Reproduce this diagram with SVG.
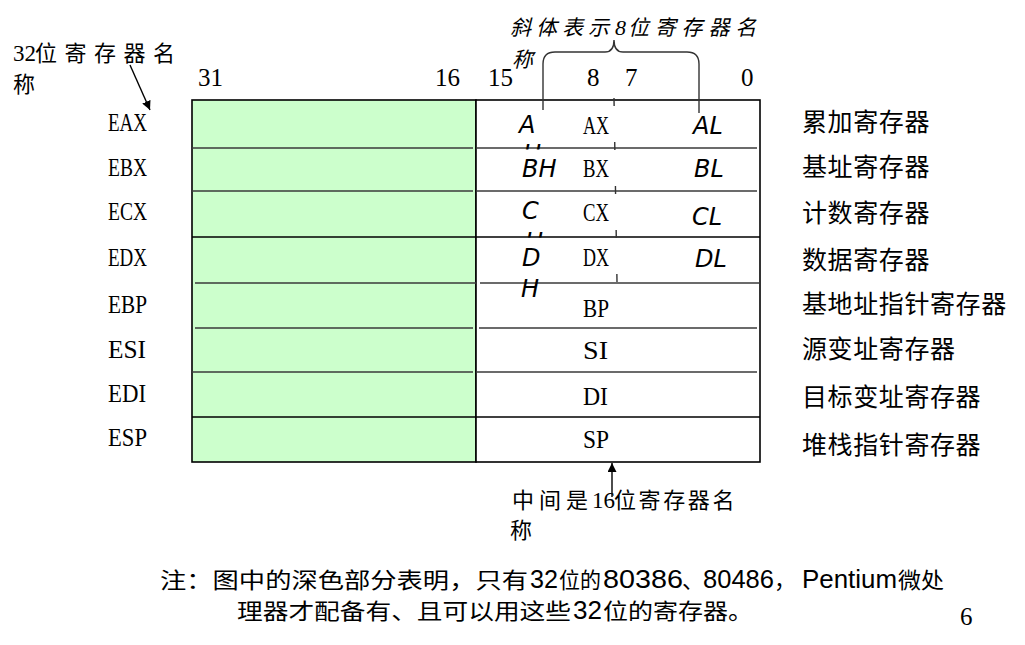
<svg xmlns="http://www.w3.org/2000/svg" width="1025" height="645" viewBox="0 0 1025 645">
<style>
.ser{font-family:"Liberation Serif","Noto Sans CJK SC",serif;font-size:25px;fill:#000}
.reg{font-family:"Liberation Serif",serif;font-size:26px;fill:#000}
.cn{font-family:"Noto Sans CJK SC",sans-serif;font-size:25px;fill:#000;letter-spacing:0.6px}
.it{font-family:"DejaVu Sans",sans-serif;font-style:italic;font-size:24px;fill:#000}
.lab{font-family:"Noto Sans CJK SC",sans-serif;font-size:22px;fill:#000}
.labs{font-family:"Liberation Serif",serif;font-size:23px;fill:#000}
.note{font-family:"Noto Sans CJK SC",sans-serif;font-size:22px;fill:#000}
.notel{font-family:"Liberation Sans",sans-serif;font-size:25px;fill:#000}
.sep{stroke:#3a3a3a;stroke-width:1.6}
.frame{stroke:#000;stroke-width:1.6}
.conn{stroke:#000;stroke-width:1.4;fill:none}
</style>
<defs>
<marker id="ah" viewBox="0 0 10 10" refX="10" refY="5" markerWidth="9" markerHeight="9" markerUnits="userSpaceOnUse" orient="auto">
<path d="M0,0 L10,5 L0,10 z" fill="#000"/>
</marker>
<clipPath id="clipA"><rect x="515" y="140" width="40" height="9.5"/></clipPath>
<clipPath id="clipC"><rect x="515" y="228" width="40" height="9.5"/></clipPath>
</defs>

<g id="frame">
<rect x="192" y="100" width="284" height="362" fill="#CCFFCC" class="frame"/>
<rect x="476" y="100" width="284" height="362" fill="#FFFFFF" class="frame"/>
<line x1="192" y1="148" x2="473" y2="148" class="sep"/>
<line x1="477" y1="148" x2="757" y2="148" class="sep"/>
<line x1="192" y1="191" x2="473" y2="191" class="sep"/>
<line x1="477" y1="191" x2="757" y2="191" class="sep"/>
<line x1="192" y1="237" x2="760" y2="237" class="frame"/>
<line x1="195" y1="283" x2="476" y2="283" class="sep"/>
<line x1="480" y1="283" x2="760" y2="283" class="sep"/>
<line x1="195" y1="328" x2="473" y2="328" class="sep"/>
<line x1="479" y1="328" x2="757" y2="328" class="sep"/>
<line x1="192" y1="372" x2="473" y2="372" class="sep"/>
<line x1="476" y1="372" x2="757" y2="372" class="sep"/>
<line x1="192" y1="417" x2="760" y2="417" class="frame"/>
<line x1="614" y1="98" x2="617" y2="282" stroke="#333" stroke-width="1.4" stroke-dasharray="8 36"/>
</g>

<g id="bit-numbers">
<text class="ser" x="198" y="86">31</text>
<text class="ser" x="435" y="86">16</text>
<text class="ser" x="488" y="86">15</text>
<text class="ser" x="587" y="86">8</text>
<text class="ser" x="625" y="86">7</text>
<text class="ser" x="741" y="86">0</text>
</g>

<g id="reg-eax">
<text class="reg" x="108" y="131" textLength="39" lengthAdjust="spacingAndGlyphs">EAX</text>
<text class="it" x="519" y="133">A</text>
<text class="it" x="523" y="161.5" clip-path="url(#clipA)">H</text>
<text class="reg" x="583" y="134" textLength="26" lengthAdjust="spacingAndGlyphs">AX</text>
<text class="it" x="693" y="134">AL</text>
<text class="cn" x="802" y="131">累加寄存器</text>
</g>
<g id="reg-ebx">
<text class="reg" x="108" y="176" textLength="39" lengthAdjust="spacingAndGlyphs">EBX</text>
<text class="it" x="522" y="177">BH</text>
<text class="reg" x="583" y="177" textLength="26" lengthAdjust="spacingAndGlyphs">BX</text>
<text class="it" x="694" y="177">BL</text>
<text class="cn" x="802" y="176">基址寄存器</text>
</g>
<g id="reg-ecx">
<text class="reg" x="108" y="220" textLength="39" lengthAdjust="spacingAndGlyphs">ECX</text>
<text class="it" x="522" y="219">C</text>
<text class="it" x="525" y="249.5" clip-path="url(#clipC)">H</text>
<text class="reg" x="583" y="221" textLength="26" lengthAdjust="spacingAndGlyphs">CX</text>
<text class="it" x="692" y="225">CL</text>
<text class="cn" x="802" y="222">计数寄存器</text>
</g>
<g id="reg-edx">
<text class="reg" x="108" y="266" textLength="39" lengthAdjust="spacingAndGlyphs">EDX</text>
<text class="it" x="522" y="266">D</text>
<text class="it" x="521" y="297">H</text>
<text class="reg" x="583" y="266" textLength="26" lengthAdjust="spacingAndGlyphs">DX</text>
<text class="it" x="695" y="267">DL</text>
<text class="cn" x="802" y="269">数据寄存器</text>
</g>
<g id="reg-ebp">
<text class="reg" x="108" y="313" textLength="39" lengthAdjust="spacingAndGlyphs">EBP</text>
<text class="reg" x="583" y="317" textLength="26" lengthAdjust="spacingAndGlyphs">BP</text>
<text class="cn" x="802" y="313">基地址指针寄存器</text>
</g>
<g id="reg-esi">
<text class="reg" x="108" y="358" textLength="38" lengthAdjust="spacingAndGlyphs">ESI</text>
<text class="reg" x="583" y="359" textLength="25" lengthAdjust="spacingAndGlyphs">SI</text>
<text class="cn" x="802" y="358">源变址寄存器</text>
</g>
<g id="reg-edi">
<text class="reg" x="108" y="402" textLength="38" lengthAdjust="spacingAndGlyphs">EDI</text>
<text class="reg" x="583" y="405" textLength="25" lengthAdjust="spacingAndGlyphs">DI</text>
<text class="cn" x="802" y="406">目标变址寄存器</text>
</g>
<g id="reg-esp">
<text class="reg" x="108" y="446" textLength="39" lengthAdjust="spacingAndGlyphs">ESP</text>
<text class="reg" x="583" y="448" textLength="26" lengthAdjust="spacingAndGlyphs">SP</text>
<text class="cn" x="802" y="454">堆栈指针寄存器</text>
</g>

<g id="label-32bit">
<text class="labs" x="13" y="61">32</text>
<text class="lab" x="35" y="61" style="letter-spacing:7.5px">位寄存器名</text>
<text class="lab" x="13" y="92">称</text>
</g>

<g id="label-8bit" style="font-style:italic">
<text class="lab" x="510" y="35" style="font-size:21px;letter-spacing:5px">斜体表示</text>
<text class="labs" x="615" y="35" style="font-size:22px">8</text>
<text class="lab" x="628" y="35" style="font-size:21px;letter-spacing:5.8px">位寄存器名</text>
<text class="lab" x="512" y="67" style="font-size:21px">称</text>
</g>

<g id="label-16bit">
<text class="lab" x="512" y="508" style="letter-spacing:5px">中间是</text>
<text class="labs" x="592" y="508">16</text>
<text class="lab" x="614" y="508" style="letter-spacing:2.6px">位寄存器名</text>
<text class="lab" x="510" y="538">称</text>
</g>

<g id="connectors">
<line x1="130" y1="65" x2="150" y2="110" class="conn" marker-end="url(#ah)"/>
<line x1="612" y1="497" x2="612" y2="463" class="conn" marker-end="url(#ah)"/>
<path d="M543,110 L543,64 Q543,52 555,52 L605,52 Q614,52 614,40 Q614,52 623,52 L687,52 Q699,52 699,64 L699,113" stroke="#333" stroke-width="1.4" fill="none"/>
</g>

<g id="note">
<text class="note" x="160" y="588" textLength="368" lengthAdjust="spacingAndGlyphs">注：图中的深色部分表明，只有</text>
<text class="notel" x="530" y="588" textLength="28" lengthAdjust="spacingAndGlyphs">32</text>
<text class="note" x="559" y="588" textLength="42" lengthAdjust="spacingAndGlyphs">位的</text>
<text class="notel" x="603" y="588" textLength="80" lengthAdjust="spacingAndGlyphs">80386</text>
<text class="note" x="682" y="588">、</text>
<text class="notel" x="703" y="588" textLength="71" lengthAdjust="spacingAndGlyphs">80486</text>
<text class="note" x="774" y="588">，</text>
<text class="notel" x="802" y="588" textLength="95" lengthAdjust="spacingAndGlyphs">Pentium</text>
<text class="note" x="898" y="588" textLength="46" lengthAdjust="spacingAndGlyphs">微处</text>
<text class="note" x="237" y="619" textLength="334" lengthAdjust="spacingAndGlyphs">理器才配备有、且可以用这些</text>
<text class="notel" x="573" y="619" textLength="29" lengthAdjust="spacingAndGlyphs">32</text>
<text class="note" x="603" y="619" textLength="150" lengthAdjust="spacingAndGlyphs">位的寄存器。</text>
<text class="ser" x="960" y="625">6</text>
</g>
</svg>
